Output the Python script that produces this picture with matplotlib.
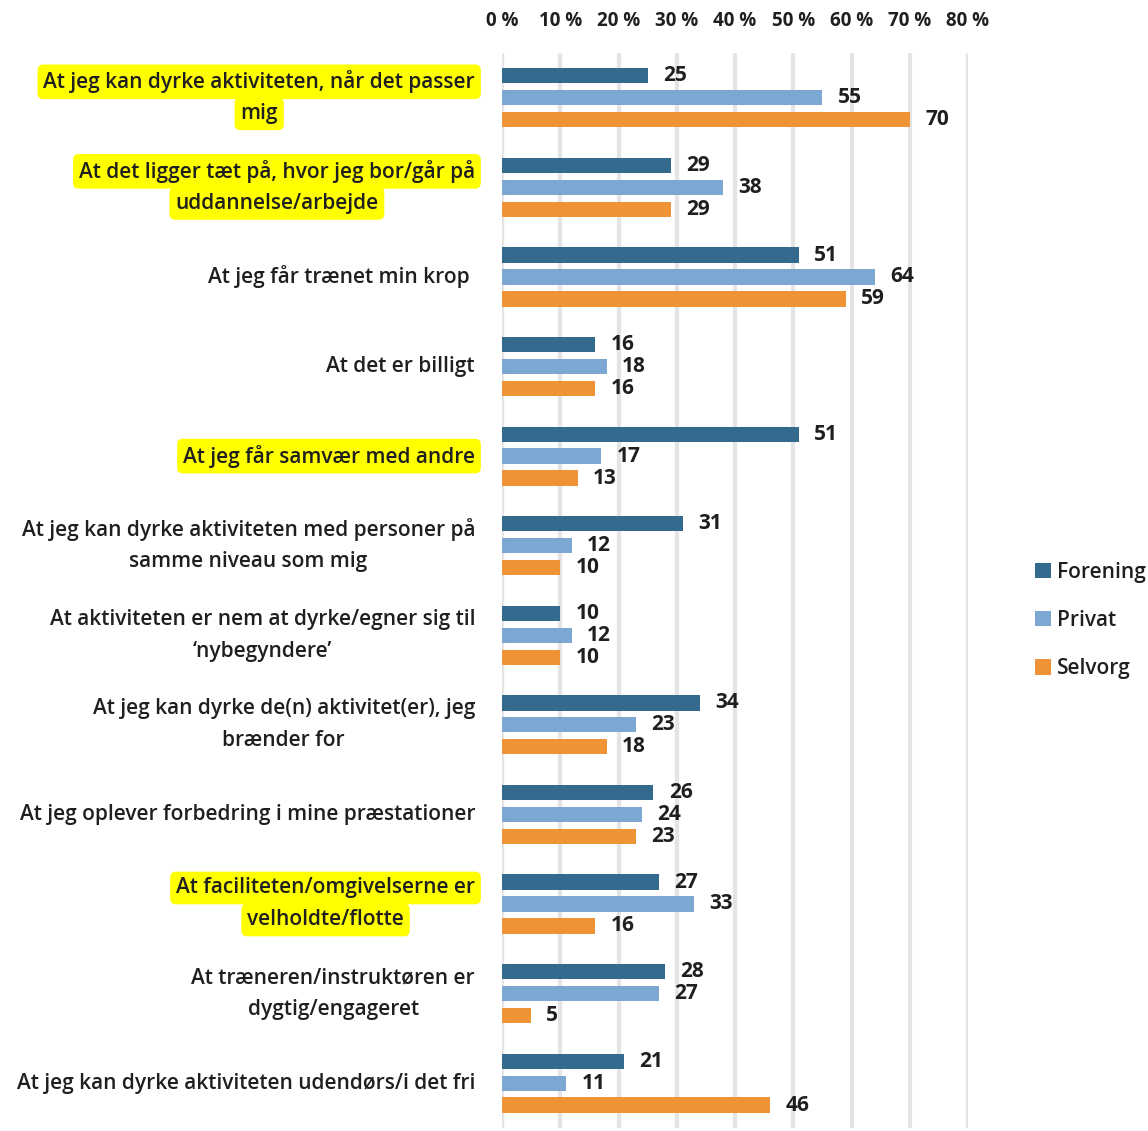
import matplotlib
matplotlib.use("Agg")
import matplotlib.pyplot as plt
import numpy as np

plt.rcParams['font.family'] = ['Open Sans', 'DejaVu Sans']

categories = [
    "At jeg kan dyrke aktiviteten, når det passer\nmig",
    "At det ligger tæt på, hvor jeg bor/går på\nuddannelse/arbejde",
    "At jeg får trænet min krop ",
    "At det er billigt",
    "At jeg får samvær med andre",
    "At jeg kan dyrke aktiviteten med personer på\nsamme niveau som mig",
    "At aktiviteten er nem at dyrke/egner sig til\n‘nybegyndere’",
    "At jeg kan dyrke de(n) aktivitet(er), jeg\nbrænder for",
    "At jeg oplever forbedring i mine præstationer",
    "At faciliteten/omgivelserne er\nvelholdte/flotte",
    "At træneren/instruktøren er\ndygtig/engageret",
    "At jeg kan dyrke aktiviteten udendørs/i det fri",
]
highlighted = [True, True, False, False, True, False, False, False, False, True, False, False]

forening = [25, 29, 51, 16, 51, 31, 10, 34, 26, 27, 28, 21]
privat = [55, 38, 64, 18, 17, 12, 12, 23, 24, 33, 27, 11]
selvorg = [70, 29, 59, 16, 13, 10, 10, 18, 23, 16, 5, 46]

series_names = ["Forening", "Privat", "Selvorg"]
colors = ["#336A8D", "#7BA7D2", "#EE9336"]
xticks = [0, 10, 20, 30, 40, 50, 60, 70, 80]

TXT = "#1f1f1f"
FS = 15
W = 600

fig = plt.figure(figsize=(11.48, 11.31), dpi=100)
ax = fig.add_axes([502 / 1148, 0.0027, 466 / 1148, 1 - 53 / 1131 - 0.0027])

y = np.arange(len(categories))
pitch = 0.245
height = 0.17
for k, (vals, col, name) in enumerate(zip([forening, privat, selvorg], colors, series_names)):
    pos = y + (k - 1) * pitch
    bars = ax.barh(pos, vals, height=height, color=col, label=name, zorder=3)
    for b, v in zip(bars, vals):
        ax.annotate(str(v), (b.get_width(), b.get_y() + b.get_height() / 2),
                    xytext=(11, 0), textcoords="offset points", va="center", ha="left",
                    fontsize=FS, fontweight="bold", color=TXT)

ax.set_xlim(0, 80)
ax.set_ylim(len(categories) - 0.5, -0.5)
ax.set_xticks(xticks)
ax.set_xticklabels([f"{t} %" for t in xticks], fontsize=13.5, fontweight="bold", color=TXT)
ax.xaxis.tick_top()
ax.tick_params(axis="x", length=0, pad=16)
ax.set_yticks([])
for s in ax.spines.values():
    s.set_visible(False)
ax.grid(axis="x", color="#E4E4E4", linewidth=3, zorder=0)
ax.axvline(0, color="#D4D4D4", linewidth=3, zorder=1)

# category labels: every line centred in its block, highlighted line by line
fig.canvas.draw()
r = fig.canvas.get_renderer()
pad_px = 27
gap_px = 32
hl_box = dict(boxstyle="round,pad=0.28", fc="#FFFF00", ec="none")
for i, (lab, hl) in enumerate(zip(categories, highlighted)):
    lines = lab.split("\n")
    n = len(lines)
    texts = []
    widths = []
    for j, line in enumerate(lines):
        dy = -(j - (n - 1) / 2) * gap_px
        t = ax.annotate(line, (0, i), xycoords=("axes fraction", "data"),
                        xytext=(-pad_px, dy), textcoords="offset pixels",
                        ha="right", va="center", fontsize=FS, color=TXT, fontweight=W)
        widths.append(t.get_window_extent(r).width)
        if hl:
            t.set_bbox(hl_box)
        texts.append((t, dy))
    wmax = max(widths)
    for (t, dy), w in zip(texts, widths):
        t.set_position((-pad_px - (wmax - w) / 2, dy))

leg = fig.legend(loc="upper left", bbox_to_anchor=(1035 / 1148, 1 - 562 / 1131),
                 frameon=False, handlelength=0.75, handleheight=0.75,
                 handletextpad=0.3, labelspacing=1.3, borderpad=0, borderaxespad=0,
                 prop={"size": FS, "weight": W})
for txt in leg.get_texts():
    txt.set_color(TXT)

fig.savefig("out.png", dpi=100)
